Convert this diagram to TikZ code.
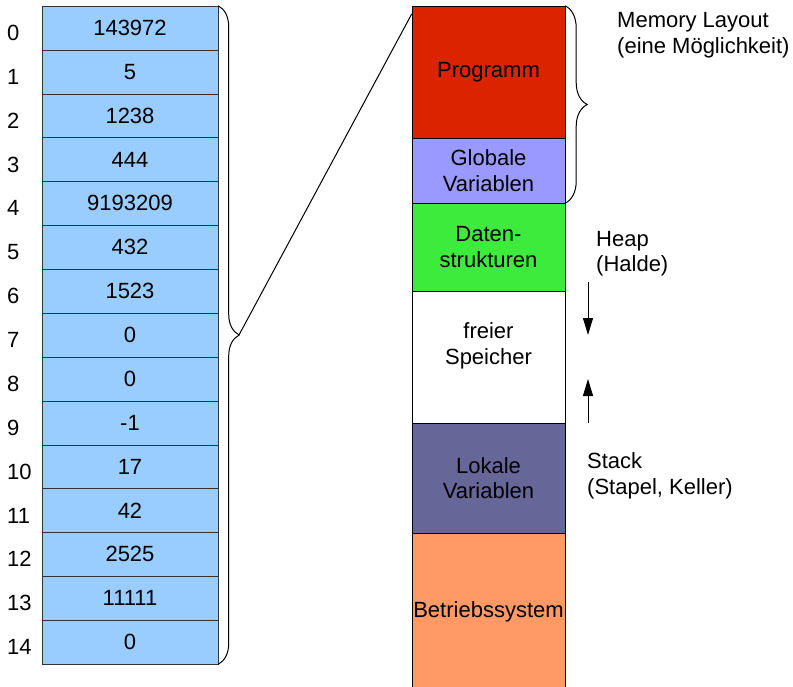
\documentclass[tikz,border=0pt]{standalone}
\usepackage{fontspec}
\setmainfont{Liberation Sans}
\usetikzlibrary{arrows.meta, decorations.pathreplacing}

\definecolor{cellblue}{HTML}{99CCFF}
\definecolor{progred}{HTML}{DC2300}
\definecolor{globlila}{HTML}{9999FF}
\definecolor{datgreen}{HTML}{3DEB3D}
\definecolor{lokblau}{HTML}{666699}
\definecolor{osorange}{HTML}{FF9966}

\begin{document}
\begin{tikzpicture}[x=1pt, y=-1pt, font=\fontsize{22}{25.5}\selectfont]
\useasboundingbox (0, 0) rectangle (793, 686);

% Speicherzellen
\begin{scope}[
    every node/.style={rectangle,draw=black!80,fill=cellblue,
        minimum width=176pt,minimum height=43.87pt,inner sep=0pt}]
    \node (c0) at (130, 27.93) {143972};
    \node (c1) at (130, 71.80) {5};
    \node (c2) at (130, 115.67) {1238};
    \node (c3) at (130, 159.54) {444};
    \node (c4) at (130, 203.41) {9193209};
    \node (c5) at (130, 247.28) {432};
    \node (c6) at (130, 291.15) {1523};
    \node (c7) at (130, 335.02) {0};
    \node (c8) at (130, 378.89) {0};
    \node (c9) at (130, 422.76) {-1};
    \node (c10) at (130, 466.63) {17};
    \node (c11) at (130, 510.50) {42};
    \node (c12) at (130, 554.37) {2525};
    \node (c13) at (130, 598.24) {11111};
    \node (c14) at (130, 642.11) {0};
\end{scope}

% Adressen
\begin{scope}[every node/.style={anchor=west,inner sep=0pt}]
    \node (i0) at (7, 33) {0};
    \node (i1) at (7, 77) {1};
    \node (i2) at (7, 121) {2};
    \node (i3) at (7, 165) {3};
    \node (i4) at (7, 208) {4};
    \node (i5) at (7, 252) {5};
    \node (i6) at (7, 296) {6};
    \node (i7) at (7, 340) {7};
    \node (i8) at (7, 384) {8};
    \node (i9) at (7, 428) {9};
    \node (i10) at (7, 472) {10};
    \node (i11) at (7, 516) {11};
    \node (i12) at (7, 559) {12};
    \node (i13) at (7, 603) {13};
    \node (i14) at (7, 647) {14};
\end{scope}

% Memory Layout
\begin{scope}[
    every node/.style={rectangle,draw=black,minimum width=153pt,
        inner sep=0pt,align=center}]
    \node (prog) at (488.5, 72) [fill=progred,minimum height=132pt] {Programm};

    \node (glob) at (488.5, 170.5) [fill=globlila,minimum height=65pt] {Globale\\Variablen};

    \node (dat) at (488.5, 247) [fill=datgreen,minimum height=88pt] {Daten-\\strukturen};

    \node (frei) at (488.5, 357) [fill=white,minimum height=132pt] {};
    \node (freitext) at (488.5, 346) [draw=none] {freier\\Speicher};

    \node (lokal) at (488.5, 478) [fill=lokblau,minimum height=110pt] {Lokale\\Variablen};

    \node (os) at (488.5, 611.5) [fill=osorange,minimum height=157pt] {Betriebssystem};
\end{scope}

% Beschriftungen
\begin{scope}[every node/.style={anchor=west,align=left,inner sep=0pt}]
    \node (layout) at (617, 35) {Memory Layout\\(eine Möglichkeit)};
    \node (heap) at (596, 253.5) {Heap\\(Halde)};
    \node (stack) at (587, 476) {Stack\\(Stapel, Keller)};
\end{scope}

% Klammern und Pfeile
\begin{scope}[>={Triangle[length=17pt,width=10pt]}, line width=1pt]
    \draw [decorate,decoration={brace,amplitude=21pt}] (c0.north east) -- (c14.south east);
    \draw [decorate,decoration={brace,amplitude=22pt}] (prog.north east) -- (glob.south east);

    \coordinate (tip) at (239, 335);
    \draw (tip) -- ([yshift=-8pt]prog.north west);

    \coordinate (heapA) at (588, 282);
    \coordinate (heapB) at (588, 335);
    \coordinate (stackA) at (588, 423);
    \coordinate (stackB) at (588, 379);
    \draw [->] (heapA) -- (heapB);
    \draw [->] (stackA) -- (stackB);
\end{scope}
\end{tikzpicture}
\end{document}
